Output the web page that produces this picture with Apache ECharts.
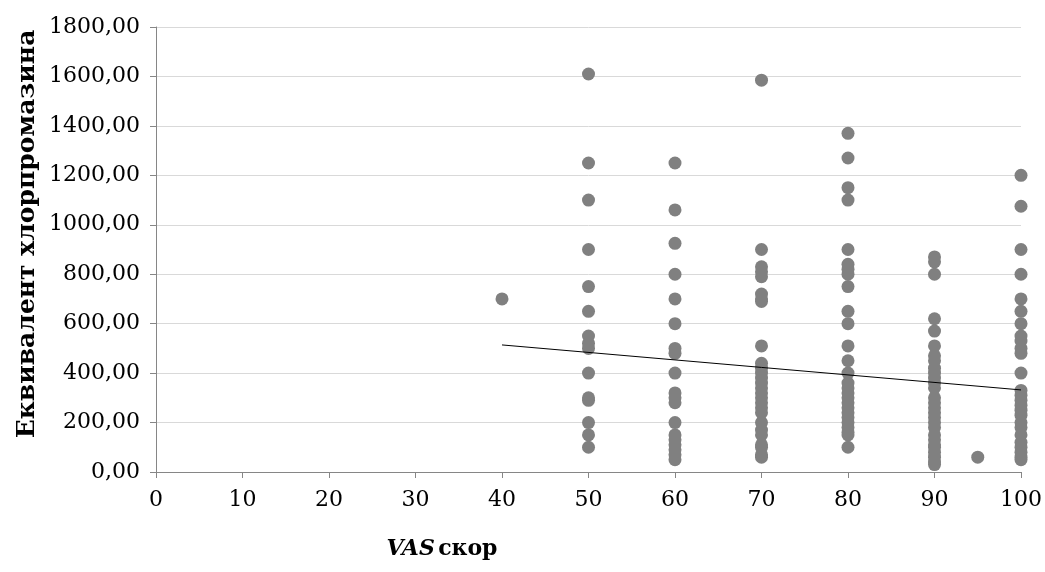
<!DOCTYPE html>
<html>
<head>
<meta charset="utf-8">
<script src="https://cdn.jsdelivr.net/npm/echarts@6/dist/echarts.min.js"></script>
<style>html,body{margin:0;padding:0;background:#fff}#c{width:1045px;height:572px}</style>
</head>
<body>
<div id="c"></div>
<script>
// VAS score groups and chlorpromazine-equivalent values
const vas40 = [700];
const vas50 = [1610, 1250, 1100, 900, 750, 650, 550, 520, 500, 400, 300, 290, 200, 150, 100];
const vas60 = [1250, 1060, 925, 800, 700, 600, 500, 480, 400, 320, 300, 280, 200, 150, 130, 110, 90, 70, 50];
const vas70 = [1585, 900, 830, 810, 790, 720, 700, 690, 510, 440, 420, 400, 380, 360, 340, 320, 300, 280, 260, 240, 200, 170, 150, 110, 100, 70, 60];
const vas80 = [1370, 1270, 1150, 1100, 900, 840, 820, 800, 750, 650, 600, 510, 450, 400, 360, 340, 320, 300, 280, 260, 240, 220, 200, 180, 160, 150, 100];
const vas90 = [870, 850, 800, 620, 570, 510, 470, 450, 420, 400, 380, 360, 340, 300, 280, 260, 240, 220, 200, 180, 150, 130, 110, 100, 80, 60, 40, 30];
const vas95 = [60];
const vas100 = [1200, 1075, 900, 800, 700, 650, 600, 550, 530, 500, 480, 400, 330, 310, 290, 270, 250, 230, 200, 180, 150, 120, 100, 80, 60, 50];
const groups = [[40, vas40], [50, vas50], [60, vas60], [70, vas70], [80, vas80], [90, vas90], [95, vas95], [100, vas100]];
// linear trend line endpoints
const trendX = [40, 100];
const trendY = [514, 332];
const xTicks = [0, 10, 20, 30, 40, 50, 60, 70, 80, 90, 100];
const yTicks = [0, 200, 400, 600, 800, 1000, 1200, 1400, 1600, 1800];

const points = [];
groups.forEach(([x, vals]) => vals.forEach(v => points.push([x, v])));
const trend = trendX.map((x, i) => [x, trendY[i]]);

const chart = echarts.init(document.getElementById('c'));
const serif = 'DejaVu Serif, Liberation Serif, serif';
chart.setOption({
  animation: false,
  grid: {left: 156, right: 23, top: 27, bottom: 100, containLabel: false},
  xAxis: {
    type: 'value', min: xTicks[0], max: xTicks[xTicks.length - 1], interval: 10,
    axisLine: {show: true, onZero: false, lineStyle: {color: '#868686', width: 1}},
    axisTick: {show: true, length: 6, lineStyle: {color: '#868686'}},
    splitLine: {show: false},
    axisLabel: {color: '#000', fontFamily: serif, fontSize: 22, margin: 17}
  },
  yAxis: {
    type: 'value', min: yTicks[0], max: yTicks[yTicks.length - 1], interval: 200,
    axisLine: {show: true, lineStyle: {color: '#868686', width: 1}},
    axisTick: {show: true, length: 6, lineStyle: {color: '#868686'}},
    splitLine: {show: true, lineStyle: {color: '#d9d9d9', width: 1}},
    axisLabel: {color: '#000', fontFamily: serif, fontSize: 22, margin: 16,
      formatter: v => v.toFixed(2).replace('.', ',')}
  },
  graphic: [{
    type: 'text', x: 27, y: 234, rotation: Math.PI / 2,
    style: {
      text: 'Еквивалент хлорпромазина', align: 'center', verticalAlign: 'middle',
      fontFamily: serif, fontSize: 25, fontWeight: 'bold', fill: '#000'
    }
  }, {
    type: 'text', x: 442, y: 549,
    style: {
      text: '{i|VAS} {b|скор}', align: 'center', verticalAlign: 'middle',
      rich: {
        i: {fontFamily: serif, fontSize: 22, fontWeight: 'bold', fontStyle: 'italic', fill: '#000'},
        b: {fontFamily: serif, fontSize: 22, fontWeight: 'bold', fill: '#000'}
      }
    }
  }],
  series: [{
    type: 'scatter', data: points, symbolSize: 13,
    itemStyle: {color: '#808080', opacity: 1}, z: 2
  }, {
    type: 'line', data: trend, symbol: 'none', z: 3,
    lineStyle: {color: '#000', width: 1}
  }]
});
</script>
</body>
</html>
